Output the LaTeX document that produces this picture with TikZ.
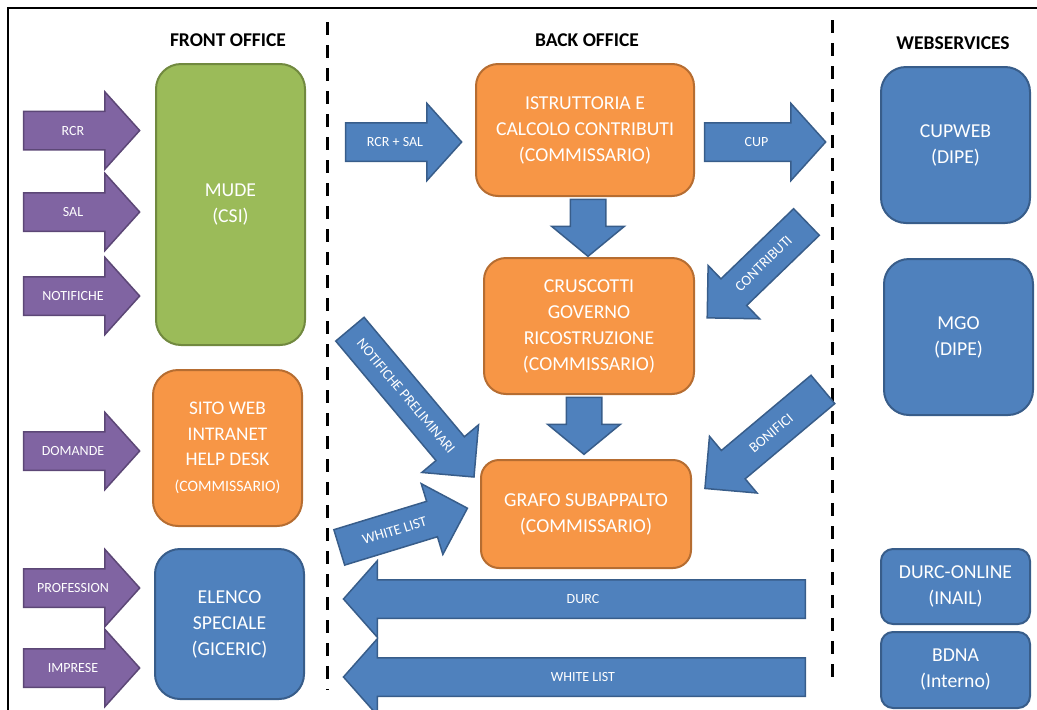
\documentclass[tikz,border=0pt]{standalone}
\usepackage{fontspec}
\setmainfont{Carlito}
\usetikzlibrary{shapes.arrows, positioning}

\definecolor{ofblue}{HTML}{4F81BD}
\definecolor{ofblueline}{HTML}{385D8A}
\definecolor{oforange}{HTML}{F79646}
\definecolor{oforangeline}{HTML}{B66D31}
\definecolor{ofgreen}{HTML}{9BBB59}
\definecolor{ofgreenline}{HTML}{71893F}
\definecolor{ofpurple}{HTML}{8064A2}
\definecolor{ofpurpleline}{HTML}{5C4776}

\begin{document}
\begin{tikzpicture}[
        x=1pt, y=-1pt,
        title/.style={font=\bfseries\fontsize{19.5}{22}\selectfont},
        box/.style={rectangle, rounded corners=22pt, line width=2pt, inner sep=0pt,
            text=white, align=center, font=\fontsize{19.7}{26}\selectfont},
        bluebox/.style={box, fill=ofblue, draw=ofblueline},
        orangebox/.style={box, fill=oforange, draw=oforangeline},
        greenbox/.style={box, fill=ofgreen, draw=ofgreenline},
        flow/.style={single arrow, line width=1.5pt, inner xsep=2pt, inner ysep=0pt,
            text height=23pt, text depth=14pt, single arrow head extend=19.5pt,
            single arrow tip angle=96, text=white, font=\fontsize{14}{17}\selectfont},
        inflow/.style={flow, fill=ofpurple, draw=ofpurpleline, minimum height=116pt},
        blueflow/.style={flow, fill=ofblue, draw=ofblueline},
        slantflow/.style={blueflow, text height=22.5pt, text depth=13pt,
            single arrow head extend=18.5pt, single arrow tip angle=90,
            font=\fontsize{14.5}{17}\selectfont},
        downflow/.style={blueflow, rotate=-90, minimum height=57pt, text height=17pt,
            text depth=17pt, single arrow head extend=18.5pt, single arrow tip angle=101}
    ]
    \useasboundingbox (0,0) rectangle (1037,710);

    % frame and column separators
    \draw[line width=2pt] (8,710) -- (8,8) -- (1037,8);
    \draw[line width=3pt, dash pattern=on 13pt off 10pt] (327,22) -- (327,690);
    \draw[line width=3pt, dash pattern=on 13pt off 10pt] (832,20) -- (832,686);

    \node[title] (front) at (228,40) {FRONT OFFICE};
    \node[title] (back) at (587,40) {BACK OFFICE};
    \node[title] (web) at (953,43) {WEBSERVICES};

    % front office
    \node[greenbox, minimum width=149pt, minimum height=281pt, rounded corners=25pt] (mude) at (230.5,204.5) {MUDE\\(CSI)};
    \node[orangebox, minimum width=149pt, minimum height=156pt, rounded corners=25pt,
        font=\fontsize{19.3}{25.5}\selectfont] (sito) at (227.5,448)
        {SITO WEB\\INTRANET\\HELP DESK\\{\fontsize{15.8}{19}\selectfont(COMMISSARIO)}};
    \node[bluebox, minimum width=149pt, minimum height=150pt, rounded corners=25pt] (elenco) at (229.5,624) {ELENCO\\SPECIALE\\(GICERIC)};

    \node[inflow] (rcr) at (73,130.5) {RCR};
    \node[inflow] (sal) at (73,212) {SAL};
    \node[inflow] (notif) at (73,296) {NOTIFICHE};
    \node[inflow] (domande) at (73,451) {DOMANDE};
    \node[inflow] (profession) at (73,588) {PROFESSION};
    \node[inflow] (imprese) at (73,668) {IMPRESE};

    % back office
    \node[orangebox, minimum width=218pt, minimum height=132pt] (istr) at (585,130) {ISTRUTTORIA E\\CALCOLO CONTRIBUTI\\(COMMISSARIO)};
    \node[orangebox, minimum width=210pt, minimum height=136pt] (crusc) at (589,326) {CRUSCOTTI\\GOVERNO\\RICOSTRUZIONE\\(COMMISSARIO)};
    \node[orangebox, minimum width=210pt, minimum height=108pt, rounded corners=18pt] (grafo) at (586,514) {GRAFO SUBAPPALTO\\(COMMISSARIO)};

    \node[blueflow, minimum height=116pt] (rcrsal) at (395,142) {RCR + SAL};
    \node[blueflow, minimum height=121pt] (cup) at (756.5,142) {CUP};
    \node[downflow] (down1) at (588,220.5) {};
    \node[downflow] (down2) at (584,418.5) {};
    \node[slantflow, rotate=-50, minimum height=193pt] (notifprel) at (406,396) {NOTIFICHE PRELIMINARI};
    \node[slantflow, rotate=44, shape border rotate=180, minimum height=138pt] (contrib) at (763.5,263.5) {CONTRIBUTI};
    \node[slantflow, rotate=40, shape border rotate=180, minimum height=154pt] (bonifici) at (771,433) {BONIFICI};
    \node[slantflow, rotate=17, minimum height=134pt] (whitein) at (394.5,530.5) {WHITE LIST};
    \node[blueflow, shape border rotate=180, minimum height=462pt, single arrow head extend=19pt,
        single arrow tip angle=97] (durc) at (583,599) {DURC};
    \node[blueflow, shape border rotate=180, minimum height=462pt, single arrow head extend=19pt,
        single arrow tip angle=97] (white) at (583,677) {WHITE LIST};

    % webservices
    \node[bluebox, minimum width=149pt, minimum height=156pt, rounded corners=25pt] (cupweb) at (955.5,145) {CUPWEB\\(DIPE)};
    \node[bluebox, minimum width=149pt, minimum height=156pt, rounded corners=25pt] (mgo) at (958.5,337) {MGO\\(DIPE)};
    \node[bluebox, minimum width=149pt, minimum height=75pt, rounded corners=12pt] (durcol) at (955.5,586.5) {DURC-ONLINE\\(INAIL)};
    \node[bluebox, minimum width=149pt, minimum height=76pt, rounded corners=12pt] (bdna) at (955.5,670) {BDNA\\(Interno)};
\end{tikzpicture}
\end{document}
